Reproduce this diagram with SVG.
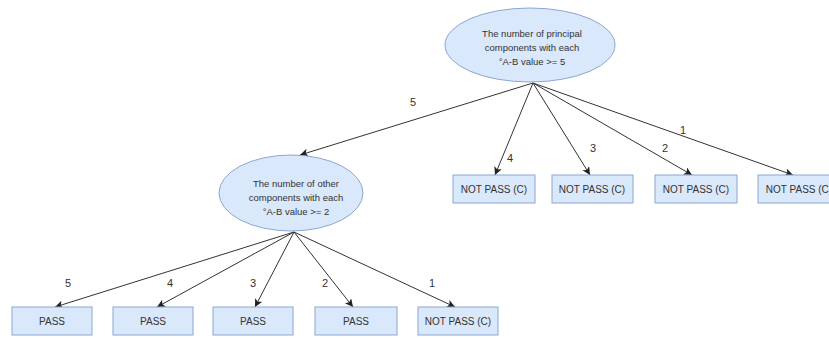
<svg xmlns="http://www.w3.org/2000/svg" width="829" height="338" viewBox="0 0 829 338">
<style>
.n{fill:#dae8fc;stroke:#8aa7d0;stroke-width:1}
.t{font-family:"Liberation Sans",Arial,sans-serif;font-size:10px;fill:#333;text-anchor:middle}
.e{font-family:"Liberation Sans",Arial,sans-serif;font-size:9.5px;fill:#333;text-anchor:middle}
.l{font-family:"Liberation Sans",Arial,sans-serif;font-size:11px;fill:#333;text-anchor:middle}
.c{stroke:#333;stroke-width:1;fill:none;marker-end:url(#a)}
</style>
<defs>
<marker id="a" markerWidth="10" markerHeight="10" refX="8" refY="4" orient="auto" markerUnits="userSpaceOnUse">
<path d="M0,0 L8,4 L0,8 L2,4 Z" fill="#222"/>
</marker>
</defs>
<rect width="829" height="338" fill="#fff"/>
<g id="connectors">
<path class="c" d="M533,83 L300,155"/>
<path class="c" d="M533,83 L495,175"/>
<path class="c" d="M533,83 L590,175"/>
<path class="c" d="M533,83 L692,175"/>
<path class="c" d="M533,83 L793,175"/>
<path class="c" d="M294,232 L55,307"/>
<path class="c" d="M294,232 L157,307"/>
<path class="c" d="M294,232 L255,307"/>
<path class="c" d="M294,232 L353,307"/>
<path class="c" d="M294,232 L455,307"/>
<text class="l" x="413" y="106">5</text>
<text class="l" x="510" y="162">4</text>
<text class="l" x="593" y="152">3</text>
<text class="l" x="665" y="152">2</text>
<text class="l" x="683" y="134">1</text>
<text class="l" x="68" y="287">5</text>
<text class="l" x="170" y="287">4</text>
<text class="l" x="253" y="287">3</text>
<text class="l" x="325" y="287">2</text>
<text class="l" x="432" y="287">1</text>
</g>
<g id="root">
<ellipse class="n" cx="530" cy="45" rx="85" ry="37"/>
<text class="e" x="532" y="37">The number of principal</text>
<text class="e" x="532" y="51">components with each</text>
<text class="e" x="532" y="65">°A-B value &gt;= 5</text>
</g>
<g id="other">
<ellipse class="n" cx="291" cy="193" rx="72" ry="38"/>
<text class="e" x="296" y="187">The number of other</text>
<text class="e" x="296" y="201">components with each</text>
<text class="e" x="296" y="215">°A-B value &gt;= 2</text>
</g>
<g id="np4"><rect class="n" x="453" y="175" width="82" height="28"/><text class="t" x="494" y="193">NOT PASS (C)</text></g>
<g id="np3"><rect class="n" x="552" y="175" width="81" height="28"/><text class="t" x="592" y="193">NOT PASS (C)</text></g>
<g id="np2"><rect class="n" x="655" y="175" width="82" height="28"/><text class="t" x="696" y="193">NOT PASS (C)</text></g>
<g id="np1"><rect class="n" x="758" y="175" width="82" height="28"/><text class="t" x="799" y="193">NOT PASS (C)</text></g>
<g id="p5"><rect class="n" x="12" y="307" width="80" height="28"/><text class="t" x="52" y="325">PASS</text></g>
<g id="p4"><rect class="n" x="113" y="307" width="80" height="28"/><text class="t" x="153" y="325">PASS</text></g>
<g id="p3"><rect class="n" x="213" y="307" width="80" height="28"/><text class="t" x="253" y="325">PASS</text></g>
<g id="p2"><rect class="n" x="315" y="307" width="82" height="28"/><text class="t" x="356" y="325">PASS</text></g>
<g id="np0"><rect class="n" x="418" y="307" width="80" height="28"/><text class="t" x="458" y="325">NOT PASS (C)</text></g>
</svg>
